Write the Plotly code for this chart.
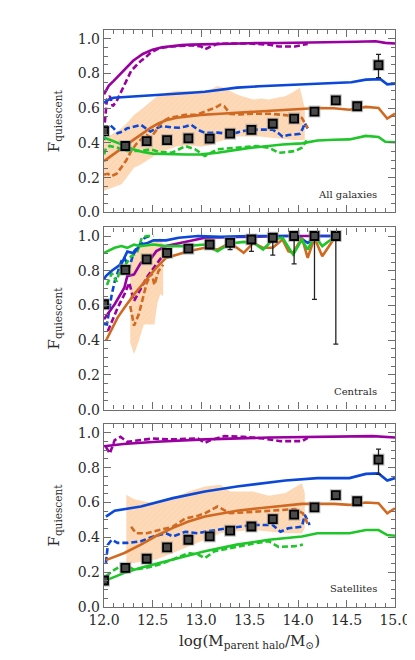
"""Quiescent fraction vs parent halo mass: all galaxies, centrals, satellites."""

import plotly.graph_objects as go

# ---------------- data: observed points (black squares) ----------------
OBS_X = [12.0, 12.22, 12.44, 12.65, 12.87, 13.09, 13.30, 13.52, 13.74, 13.96, 14.17, 14.39, 14.61, 14.83]

ALL_OBS_Y = [0.468, 0.382, 0.41, 0.416, 0.426, 0.424, 0.453, 0.475, 0.51, 0.54, 0.58, 0.645, 0.611, 0.848]
ALL_OBS_EP = [0.01, 0.01, 0.01, 0.01, 0.01, 0.01, 0.01, 0.01, 0.01, 0.01, 0.01, 0.01, 0.01, 0.062]
ALL_OBS_EM = [0.01, 0.01, 0.01, 0.01, 0.01, 0.01, 0.01, 0.01, 0.01, 0.01, 0.01, 0.01, 0.01, 0.072]

CEN_OBS_X = [12.0, 12.22, 12.44, 12.65, 12.87, 13.09, 13.30, 13.52, 13.74, 13.96, 14.17, 14.39]
CEN_OBS_Y = [0.607, 0.805, 0.866, 0.903, 0.927, 0.951, 0.961, 0.98, 0.99, 1.0, 1.0, 1.0]
CEN_OBS_EP = [0.01, 0.01, 0.01, 0.01, 0.01, 0.01, 0.01, 0.01, 0.01, 0.0, 0.0, 0.0]
CEN_OBS_EM = [0.01, 0.01, 0.01, 0.01, 0.01, 0.01, 0.039, 0.068, 0.10, 0.16, 0.365, 0.623]

SAT_OBS_Y = [0.152, 0.225, 0.277, 0.342, 0.386, 0.405, 0.438, 0.462, 0.505, 0.53, 0.572, 0.642, 0.607, 0.846]
SAT_OBS_EP = [0.01, 0.01, 0.01, 0.01, 0.01, 0.01, 0.01, 0.01, 0.01, 0.01, 0.01, 0.01, 0.01, 0.06]
SAT_OBS_EM = [0.01, 0.01, 0.01, 0.01, 0.01, 0.01, 0.01, 0.01, 0.01, 0.01, 0.01, 0.01, 0.01, 0.085]

# ---------------- data: All galaxies ----------------
ALL_PUR_X = [12.0, 12.05, 12.1, 12.2, 12.3, 12.4, 12.5, 12.6, 12.7, 12.8, 12.9, 13.0, 13.2, 13.5, 13.8, 14.0, 14.3, 14.6, 14.8, 14.9, 15.0]
ALL_PUR_Y = [0.68, 0.73, 0.757, 0.815, 0.873, 0.912, 0.937, 0.951, 0.959, 0.963, 0.966, 0.968, 0.972, 0.974, 0.975, 0.976, 0.978, 0.982, 0.985, 0.976, 0.972]
ALL_PURD_X = [12.0, 12.03, 12.06, 12.09, 12.13, 12.18, 12.23, 12.28, 12.33, 12.38, 12.43, 12.48, 12.54, 12.6, 12.7,
              12.8, 12.9, 13.0, 13.04, 13.1, 13.17, 13.3, 13.5, 13.7, 13.8, 13.9, 13.97, 14.05, 14.1]
ALL_PURD_Y = [0.465, 0.65, 0.67, 0.611, 0.64, 0.698, 0.757, 0.815, 0.844, 0.872, 0.893, 0.919, 0.937, 0.948, 0.955,
              0.958, 0.962, 0.955, 0.939, 0.955, 0.97, 0.972, 0.972, 0.966, 0.955, 0.955, 0.955, 0.965, 0.97]

ALL_BLU_X = [12.0, 12.05, 12.1, 12.2, 12.3, 12.5, 12.7, 12.9, 13.04, 13.2, 13.37, 13.6, 13.87, 14.1, 14.37, 14.55, 14.7, 14.85, 14.92, 15.0]
ALL_BLU_Y = [0.63, 0.65, 0.66, 0.664, 0.669, 0.677, 0.684, 0.689, 0.694, 0.705, 0.718, 0.726, 0.733, 0.739, 0.745, 0.749, 0.764, 0.767, 0.737, 0.741]
ALL_BLUD_X = [12.0, 12.02, 12.06, 12.1, 12.14, 12.19, 12.24, 12.3, 12.38, 12.43, 12.48, 12.54, 12.6, 12.7, 12.77, 12.84, 12.9,
              12.97, 13.04, 13.17, 13.3, 13.37, 13.45, 13.54, 13.64, 13.74, 13.8, 13.84, 13.9, 13.97, 14.02, 14.05, 14.07, 14.1]
ALL_BLUD_Y = [0.416, 0.475, 0.504, 0.484, 0.455, 0.465, 0.484, 0.494, 0.504, 0.484, 0.465, 0.484, 0.497, 0.489, 0.487, 0.494, 0.504,
              0.475, 0.458, 0.459, 0.452, 0.459, 0.47, 0.476, 0.477, 0.476, 0.455, 0.436, 0.445, 0.449, 0.452, 0.484, 0.514, 0.484]

ALL_ORA_X = [12.0, 12.07, 12.14, 12.22, 12.31, 12.4, 12.48, 12.56, 12.64, 12.75, 12.87, 13.0, 13.2, 13.37, 13.54, 13.7, 13.87,
             14.04, 14.2, 14.37, 14.53, 14.7, 14.83, 14.92, 15.0]
ALL_ORA_Y = [0.295, 0.324, 0.353, 0.387, 0.42, 0.455, 0.487, 0.512, 0.53, 0.545, 0.554, 0.561, 0.568, 0.574, 0.58, 0.585, 0.591,
             0.596, 0.601, 0.599, 0.591, 0.607, 0.601, 0.54, 0.568]
ALL_ORAD_X = [12.0, 12.04, 12.08, 12.13, 12.18, 12.23, 12.28, 12.33, 12.38, 12.44, 12.48, 12.53, 12.57, 12.62, 12.67, 12.75,
              12.84, 12.95, 13.07, 13.14, 13.2, 13.24, 13.3, 13.4, 13.54, 13.7, 13.87, 13.97, 14.04, 14.07, 14.1]
ALL_ORAD_Y = [0.218, 0.222, 0.209, 0.222, 0.26, 0.3, 0.353, 0.392, 0.42, 0.445, 0.43, 0.465, 0.504, 0.528, 0.543, 0.552,
              0.562, 0.562, 0.587, 0.601, 0.62, 0.611, 0.567, 0.564, 0.568, 0.568, 0.56, 0.552, 0.543, 0.514, 0.484]

ALL_GRN_X = [12.0, 12.1, 12.2, 12.3, 12.4, 12.5, 12.7, 12.85, 13.0, 13.17, 13.5, 13.84, 14.04, 14.2, 14.37, 14.53, 14.7, 14.83, 14.9, 15.0]
ALL_GRN_Y = [0.431, 0.411, 0.387, 0.363, 0.348, 0.338, 0.333, 0.333, 0.334, 0.343, 0.371, 0.391, 0.397, 0.414, 0.418, 0.42, 0.44, 0.434, 0.406, 0.404]
ALL_GRND_X = [12.0, 12.02, 12.06, 12.14, 12.24, 12.38, 12.48, 12.57, 12.7, 12.84, 12.94, 13.04, 13.17, 13.37, 13.57, 13.7,
              13.8, 13.9, 13.97, 14.04, 14.09]
ALL_GRND_Y = [0.334, 0.368, 0.382, 0.372, 0.353, 0.353, 0.363, 0.348, 0.343, 0.382, 0.363, 0.324, 0.363, 0.372, 0.382, 0.372,
              0.343, 0.348, 0.353, 0.372, 0.414]

ALL_BAND_X = [12.0, 12.05, 12.1, 12.18, 12.25, 12.31, 12.38, 12.44, 12.5, 12.57, 12.64, 12.74, 12.87, 13.0, 13.1, 13.17,
              13.24, 13.3, 13.37, 13.45, 13.54, 13.62, 13.7, 13.78, 13.87, 13.95, 14.02, 14.07]
ALL_BAND_HI = [0.43, 0.44, 0.455, 0.484, 0.523, 0.562, 0.591, 0.62, 0.65, 0.679, 0.689, 0.698, 0.698, 0.698, 0.708, 0.728,
               0.718, 0.698, 0.679, 0.664, 0.65, 0.655, 0.65, 0.66, 0.669, 0.693, 0.718, 0.6]
ALL_BAND_LO = [0.124, 0.134, 0.144, 0.161, 0.212, 0.257, 0.275, 0.296, 0.319, 0.343, 0.358, 0.377, 0.387, 0.377, 0.387, 0.406,
               0.416, 0.426, 0.436, 0.436, 0.436, 0.436, 0.431, 0.426, 0.421, 0.416, 0.416, 0.416]

# ---------------- data: Centrals ----------------
CEN_PUR_X = [12.0, 12.11, 12.21, 12.24, 12.31, 12.38, 12.48, 12.54, 12.64, 12.75, 12.87, 13.04, 13.37, 13.87, 14.39]
CEN_PUR_Y = [0.52, 0.607, 0.702, 0.769, 0.779, 0.846, 0.866, 0.913, 0.942, 0.956, 0.971, 0.99, 0.994, 1.0, 1.0]
CEN_PURD_X = [12.04, 12.14, 12.21, 12.26, 12.31, 12.37, 12.44, 12.51, 12.59, 12.64]
CEN_PURD_Y = [0.453, 0.586, 0.664, 0.731, 0.625, 0.684, 0.76, 0.815, 0.874, 0.912]

CEN_BLU_X = [12.0, 12.02, 12.08, 12.18, 12.24, 12.31, 12.37, 12.45, 12.51, 12.64, 12.77, 12.97, 13.2, 13.5, 13.8, 14.0, 14.1, 14.2, 14.39]
CEN_BLU_Y = [0.75, 0.77, 0.80, 0.84, 0.91, 0.90, 0.95, 0.96, 0.975, 0.975, 0.99, 1.0, 0.995, 1.0, 1.0, 1.0, 0.96, 1.0, 1.0]
CEN_BLUD_X = [12.0, 12.03, 12.08, 12.11, 12.18, 12.21, 12.26, 12.31, 12.37, 12.42, 12.47]
CEN_BLUD_Y = [0.494, 0.491, 0.664, 0.737, 0.857, 0.874, 0.815, 0.912, 0.951, 0.99, 1.0]

CEN_ORA_X = [12.02, 12.14, 12.21, 12.31, 12.44, 12.54, 12.64, 12.75, 12.87, 13.04, 13.17, 13.3, 13.44, 13.54, 13.64, 13.74,
             13.84, 13.9, 13.95, 14.04, 14.1, 14.17, 14.25, 14.39]
CEN_ORA_Y = [0.397, 0.53, 0.587, 0.664, 0.751, 0.818, 0.874, 0.893, 0.912, 0.932, 0.922, 0.961, 0.903, 0.961, 0.932, 0.932,
             0.98, 0.912, 0.903, 0.99, 0.874, 0.99, 0.883, 1.0]
CEN_ORAD_X = [12.27, 12.31, 12.36, 12.41, 12.44, 12.49, 12.52, 12.56, 12.61]
CEN_ORAD_Y = [0.597, 0.484, 0.552, 0.66, 0.728, 0.786, 0.718, 0.796, 0.835]

CEN_GRN_X = [12.0, 12.11, 12.18, 12.24, 12.31, 12.37, 12.51, 12.64, 12.84, 13.04, 13.17, 13.3, 13.44, 13.54, 13.64, 13.74,
             13.84, 13.95, 14.04, 14.1, 14.17, 14.25, 14.39]
CEN_GRN_Y = [0.903, 0.932, 0.942, 0.932, 0.951, 0.942, 0.951, 0.942, 0.942, 0.951, 0.912, 0.957, 0.966, 0.961, 0.922, 0.98,
             0.99, 0.893, 0.98, 0.922, 1.0, 0.942, 1.0]
CEN_GRND_X = [12.03, 12.08, 12.13, 12.18, 12.21, 12.28, 12.34, 12.39, 12.44, 12.51]
CEN_GRND_Y = [0.718, 0.786, 0.737, 0.835, 0.825, 0.883, 0.903, 0.99, 1.0, 1.0]

CEN_BAND_X = [12.27, 12.31, 12.36, 12.41, 12.46, 12.52, 12.55, 12.58, 12.61]
CEN_BAND_HI = [0.874, 0.903, 0.932, 0.951, 0.961, 0.971, 0.98, 0.99, 0.951]
CEN_BAND_LO = [0.387, 0.319, 0.397, 0.491, 0.491, 0.491, 0.611, 0.664, 0.655]

# ---------------- data: Satellites ----------------
SAT_PUR_X = [12.0, 12.2, 12.54, 13.04, 13.7, 14.37, 14.77, 15.0]
SAT_PUR_Y = [0.923, 0.936, 0.949, 0.962, 0.973, 0.977, 0.981, 0.973]
SAT_PURD_X = [12.02, 12.06, 12.11, 12.17, 12.24, 12.37, 12.5, 12.67, 12.84, 12.97, 13.04, 13.1, 13.24, 13.44, 13.64, 13.82, 14.04, 14.1]
SAT_PURD_Y = [0.919, 0.881, 0.958, 0.977, 0.948, 0.958, 0.967, 0.962, 0.967, 0.967, 0.942, 0.958, 0.981, 0.977, 0.967, 0.952, 0.952, 0.971]

SAT_BLU_X = [12.02, 12.11, 12.38, 12.71, 13.04, 13.37, 13.87, 14.2, 14.53, 14.7, 14.83, 14.92, 15.0]
SAT_BLU_Y = [0.519, 0.553, 0.577, 0.625, 0.663, 0.692, 0.726, 0.74, 0.74, 0.764, 0.767, 0.726, 0.74]
SAT_BLUD_X = [12.02, 12.04, 12.08, 12.14, 12.24, 12.38, 12.51, 12.64, 12.71, 12.84, 12.97, 13.04, 13.27, 13.54, 13.74, 13.82,
              13.9, 14.04, 14.07, 14.12]
SAT_BLUD_Y = [0.253, 0.358, 0.386, 0.368, 0.368, 0.377, 0.405, 0.423, 0.405, 0.432, 0.423, 0.432, 0.452, 0.471, 0.471, 0.432,
              0.452, 0.461, 0.529, 0.471]

SAT_ORA_X = [12.02, 12.21, 12.38, 12.54, 12.71, 12.87, 13.04, 13.37, 13.7, 14.04, 14.37, 14.53, 14.7, 14.83, 14.92, 15.0]
SAT_ORA_Y = [0.269, 0.31, 0.358, 0.409, 0.454, 0.491, 0.519, 0.553, 0.573, 0.592, 0.592, 0.586, 0.6, 0.596, 0.538, 0.567]
SAT_ORAD_X = [12.28, 12.33, 12.44, 12.57, 12.71, 12.84, 12.97, 13.04, 13.17, 13.3, 13.54, 13.77, 13.97, 14.05, 14.1]
SAT_ORAD_Y = [0.461, 0.423, 0.423, 0.442, 0.461, 0.509, 0.524, 0.538, 0.577, 0.538, 0.548, 0.555, 0.562, 0.538, 0.478]

SAT_GRN_X = [12.02, 12.21, 12.38, 12.71, 13.04, 13.37, 13.7, 14.04, 14.2, 14.53, 14.7, 14.83, 14.92, 15.0]
SAT_GRN_Y = [0.153, 0.196, 0.225, 0.273, 0.32, 0.358, 0.386, 0.405, 0.423, 0.423, 0.442, 0.442, 0.413, 0.409]
SAT_GRND_X = [12.02, 12.11, 12.21, 12.31, 12.44, 12.57, 12.71, 12.87, 12.97, 13.04, 13.14, 13.37, 13.57, 13.7, 13.8, 13.97, 14.05]
SAT_GRND_Y = [0.177, 0.215, 0.244, 0.215, 0.225, 0.244, 0.273, 0.31, 0.301, 0.281, 0.32, 0.345, 0.368, 0.377, 0.345, 0.349, 0.358]

SAT_BAND_X = [12.23, 12.31, 12.42, 12.54, 12.71, 12.87, 13.04, 13.2, 13.3, 13.54, 13.7, 13.87, 14.04, 14.07]
SAT_BAND_HI = [0.644, 0.619, 0.606, 0.596, 0.625, 0.663, 0.692, 0.702, 0.663, 0.663, 0.638, 0.654, 0.711, 0.654]
SAT_BAND_LO = [0.253, 0.253, 0.264, 0.273, 0.31, 0.349, 0.386, 0.423, 0.432, 0.442, 0.432, 0.423, 0.423, 0.452]

# ---------------- style ----------------
PURPLE = "#98009f"
BLUE = "#0b48d8"
ORANGE = "#d06a22"
GREEN = "#1ec62a"
BAND_FILL = "rgba(253,208,165,0.8)"
AXIS_COLOR = "#6e6e6e"
TEXT_COLOR = "#2a2a2a"
FONT = "DejaVu Serif"

fig = go.Figure()


def add_panel(n, band, lines, obs, label):
    xa = "x" if n == 1 else f"x{n}"
    ya = "y" if n == 1 else f"y{n}"
    bx, blo, bhi = band
    fig.add_trace(go.Scatter(x=bx, y=blo, mode="lines", line=dict(width=0),
                             xaxis=xa, yaxis=ya, hoverinfo="skip", showlegend=False))
    fig.add_trace(go.Scatter(x=bx, y=bhi, mode="lines", line=dict(width=0),
                             fill="tonexty", fillcolor=BAND_FILL,
                             fillpattern=dict(shape="/", fgcolor="rgba(236,170,120,0.35)",
                                              bgcolor=BAND_FILL, size=4, solidity=0.15),
                             xaxis=xa, yaxis=ya, hoverinfo="skip", showlegend=False))
    for x, y, color, dashed in lines:
        fig.add_trace(go.Scatter(
            x=x, y=y, mode="lines",
            line=dict(color=color, width=2.6, dash="6px,3px" if dashed else "solid"),
            xaxis=xa, yaxis=ya, showlegend=False,
        ))
    ox, oy, ep, em = obs
    # light halo behind each square
    fig.add_trace(go.Scatter(
        x=ox, y=oy, mode="markers",
        marker=dict(symbol="square", size=12, color="rgba(150,150,150,0.55)"),
        xaxis=xa, yaxis=ya, hoverinfo="skip", showlegend=False,
    ))
    fig.add_trace(go.Scatter(
        x=ox, y=oy, mode="markers",
        marker=dict(symbol="square", size=8, color="#4a4a4a", line=dict(color="#000000", width=1.8)),
        error_y=dict(type="data", symmetric=False, array=ep, arrayminus=em,
                     color="#222222", thickness=1.3, width=2.5),
        xaxis=xa, yaxis=ya, showlegend=False,
    ))
    fig.add_annotation(
        x=0.945, y=0.10, xref=f"{xa} domain", yref=f"{ya} domain",
        text=label, showarrow=False, xanchor="right", yanchor="middle",
        font=dict(family=FONT, size=10, color=TEXT_COLOR),
    )


add_panel(
    1,
    (ALL_BAND_X, ALL_BAND_LO, ALL_BAND_HI),
    [
        (ALL_PUR_X, ALL_PUR_Y, PURPLE, False), (ALL_PURD_X, ALL_PURD_Y, PURPLE, True),
        (ALL_BLU_X, ALL_BLU_Y, BLUE, False), (ALL_BLUD_X, ALL_BLUD_Y, BLUE, True),
        (ALL_ORA_X, ALL_ORA_Y, ORANGE, False), (ALL_ORAD_X, ALL_ORAD_Y, ORANGE, True),
        (ALL_GRN_X, ALL_GRN_Y, GREEN, False), (ALL_GRND_X, ALL_GRND_Y, GREEN, True),
    ],
    (OBS_X, ALL_OBS_Y, ALL_OBS_EP, ALL_OBS_EM),
    "All galaxies",
)
add_panel(
    2,
    (CEN_BAND_X, CEN_BAND_LO, CEN_BAND_HI),
    [
        (CEN_PURD_X, CEN_PURD_Y, PURPLE, True), (CEN_ORAD_X, CEN_ORAD_Y, ORANGE, True),
        (CEN_BLUD_X, CEN_BLUD_Y, BLUE, True), (CEN_GRND_X, CEN_GRND_Y, GREEN, True),
        (CEN_PUR_X, CEN_PUR_Y, PURPLE, False), (CEN_BLU_X, CEN_BLU_Y, BLUE, False),
        (CEN_ORA_X, CEN_ORA_Y, ORANGE, False), (CEN_GRN_X, CEN_GRN_Y, GREEN, False),
    ],
    (CEN_OBS_X, CEN_OBS_Y, CEN_OBS_EP, CEN_OBS_EM),
    "Centrals",
)
add_panel(
    3,
    (SAT_BAND_X, SAT_BAND_LO, SAT_BAND_HI),
    [
        (SAT_PUR_X, SAT_PUR_Y, PURPLE, False), (SAT_PURD_X, SAT_PURD_Y, PURPLE, True),
        (SAT_BLU_X, SAT_BLU_Y, BLUE, False), (SAT_BLUD_X, SAT_BLUD_Y, BLUE, True),
        (SAT_ORA_X, SAT_ORA_Y, ORANGE, False), (SAT_ORAD_X, SAT_ORAD_Y, ORANGE, True),
        (SAT_GRN_X, SAT_GRN_Y, GREEN, False), (SAT_GRND_X, SAT_GRND_Y, GREEN, True),
    ],
    (OBS_X, SAT_OBS_Y, SAT_OBS_EP, SAT_OBS_EM),
    "Satellites",
)

# ---------------- axes ----------------
common = dict(
    showline=True, linecolor=AXIS_COLOR, linewidth=1.4, mirror="allticks",
    ticks="inside", ticklen=7, tickwidth=1, tickcolor=AXIS_COLOR,
    showgrid=False, zeroline=False,
    tickfont=dict(family=FONT, size=14, color=TEXT_COLOR),
)
x_common = dict(common, range=[12.0, 15.0], dtick=0.5, tick0=12.0, tickformat=".1f",
                minor=dict(ticks="inside", dtick=0.1, ticklen=4, tickcolor=AXIS_COLOR))
y_common = dict(common, range=[0.0, 1.05], dtick=0.2, tick0=0.0, tickformat=".1f",
                minor=dict(ticks="inside", dtick=0.05, ticklen=4, tickcolor=AXIS_COLOR),
                title=dict(text="F<sub>quiescent</sub>", standoff=14,
                           font=dict(family=FONT, size=15, color=TEXT_COLOR)))

domains = {1: [0.684, 1.0], 2: [0.342, 0.658], 3: [0.0, 0.317]}
for n in (1, 2, 3):
    xk = "xaxis" if n == 1 else f"xaxis{n}"
    yk = "yaxis" if n == 1 else f"yaxis{n}"
    ya = "y" if n == 1 else f"y{n}"
    xa = "x" if n == 1 else f"x{n}"
    xa_opts = dict(x_common, anchor=ya, showticklabels=(n == 3))
    if n == 3:
        xa_opts["title"] = dict(text="log(M<sub>parent halo</sub>/M<sub>⊙</sub>)", standoff=8,
                                font=dict(family=FONT, size=15, color=TEXT_COLOR))
    fig.update_layout({xk: xa_opts, yk: dict(y_common, anchor=xa, domain=domains[n])})

fig.update_layout(
    width=415, height=660,
    margin=dict(l=96, r=18, t=22, b=61),
    paper_bgcolor="white", plot_bgcolor="white",
    showlegend=False,
)

fig.write_html("out.html")
